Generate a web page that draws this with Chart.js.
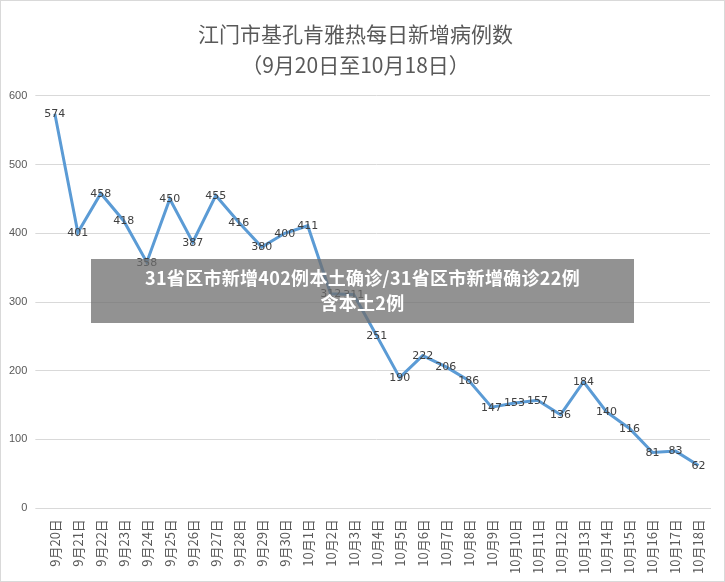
<!DOCTYPE html>
<html><head><meta charset="utf-8">
<script src="https://cdn.jsdelivr.net/npm/chart.js@4"></script>
<style>
body{margin:0;background:#fff;font-family:"Noto Sans CJK SC",sans-serif}
#wrap{position:relative;width:723px;height:580px;border:1px solid #d9d9d9}
#banner{position:absolute;left:90px;top:258px;width:543px;height:64px;background:rgba(110,110,110,0.75);color:#fff;font-weight:bold;font-size:18px;text-align:center;line-height:25px;padding-top:6px;box-sizing:border-box;letter-spacing:0.3px}
</style></head><body>
<div id="wrap"><canvas id="c" width="723" height="580"></canvas>
<div id="banner">31省区市新增402例本土确诊/31省区市新增确诊22例<br>含本土2例</div></div>
<script>
const labels = ['9月20日','9月21日','9月22日','9月23日','9月24日','9月25日','9月26日','9月27日','9月28日','9月29日','9月30日','10月1日','10月2日','10月3日','10月4日','10月5日','10月6日','10月7日','10月8日','10月9日','10月10日','10月11日','10月12日','10月13日','10月14日','10月15日','10月16日','10月17日','10月18日'];
const cases = [574,401,458,418,358,450,387,455,416,380,400,411,312,311,251,190,222,206,186,147,153,157,136,184,140,116,81,83,62];
const titleLines = ['江门市基孔肯雅热每日新增病例数','（9月20日至10月18日）'];

// 数値ラベル
const valueLabels = {
    id: 'valueLabels',
    afterDatasetsDraw(chart) {
        const ctx = chart.ctx;
        const meta = chart.getDatasetMeta(0);
        ctx.save();
        ctx.font = '11px "DejaVu Sans", sans-serif';
        ctx.fillStyle = '#404040';
        ctx.textAlign = 'center';
        ctx.textBaseline = 'bottom';
        meta.data.forEach((pt, i) => {
            ctx.fillText(cases[i], pt.x, pt.y + 6);
        });
        ctx.restore();
    }
};

new Chart(document.getElementById('c'), {
    type: 'line',
    data: {
        labels: labels,
        datasets: [{
            data: cases,
            borderColor: '#5b9bd5',
            borderWidth: 3,
            pointRadius: 0,
            tension: 0,
        }]
    },
    options: {
        responsive: false,
        animation: false,
        layout: { padding: { left: 0, right: 14, top: 4, bottom: 4 } },
        plugins: {
            legend: { display: false },
            tooltip: { enabled: false },
            title: {
                display: true,
                text: titleLines,
                color: '#595959',
                font: { size: 21, family: '"Noto Sans CJK SC", sans-serif', weight: 'normal', lineHeight: 1.45 },
                padding: { top: 14, bottom: 16 },
            },
        },
        scales: {
            x: {
                offset: true,
                grid: { display: false },
                border: { color: '#d9d9d9' },
                ticks: {
                    color: '#595959',
                    font: { size: 13, family: '"Noto Sans CJK SC", sans-serif' },
                    maxRotation: 90, minRotation: 90,
                    autoSkip: false,
                },
            },
            y: {
                min: 0, max: 600,
                ticks: { stepSize: 100, color: '#595959', font: { size: 11 }, padding: 8 },
                grid: { color: '#d9d9d9' },
                border: { display: false },
            },
        },
    },
    plugins: [valueLabels],
});
</script></body></html>
